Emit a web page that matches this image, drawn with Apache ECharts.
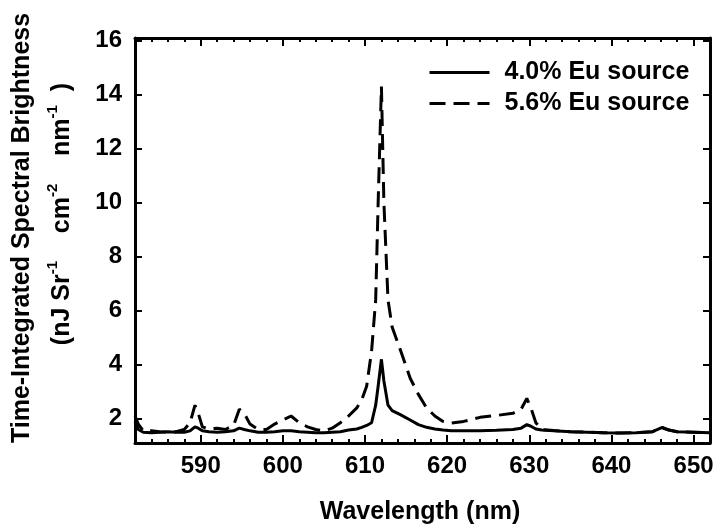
<!DOCTYPE html>
<html>
<head>
<meta charset="utf-8">
<script src="https://cdn.jsdelivr.net/npm/echarts@6/dist/echarts.min.js"></script>
<style>html,body{margin:0;padding:0;background:#fff;}#c{width:719px;height:529px;}</style>
</head>
<body>
<div id="c"></div>
<script>
// Wavelength (nm)
const wavelengths = [582, 582.4, 583, 584, 585, 586, 587, 588, 588.7, 589.3, 589.7, 590.2, 591, 592, 593, 594, 594.7, 595.3, 596, 597, 598, 599, 600, 601, 602, 603, 604, 605, 606, 607, 608, 609, 609.6, 610.2, 610.8, 611.3, 611.6, 612, 612.3, 612.8, 613.3, 614.3, 615.5, 616.5, 617.5, 618.5, 619.5, 620.5, 622, 624, 626, 628, 629, 629.7, 630.2, 630.8, 631.5, 633, 635, 637, 639, 641, 643, 645, 646.2, 647, 648, 650, 652];
// 4.0% Eu source
const eu40 = [1.9, 1.6, 1.5, 1.48, 1.5, 1.52, 1.5, 1.5, 1.55, 1.7, 1.65, 1.55, 1.52, 1.5, 1.52, 1.55, 1.65, 1.6, 1.55, 1.5, 1.5, 1.52, 1.55, 1.55, 1.52, 1.5, 1.48, 1.48, 1.5, 1.52, 1.58, 1.62, 1.68, 1.75, 1.85, 2.5, 3.2, 4.2, 3.4, 2.5, 2.3, 2.15, 1.95, 1.78, 1.68, 1.62, 1.58, 1.55, 1.55, 1.55, 1.57, 1.6, 1.65, 1.78, 1.72, 1.62, 1.58, 1.55, 1.52, 1.5, 1.48, 1.47, 1.48, 1.52, 1.68, 1.58, 1.52, 1.5, 1.48];
// 5.6% Eu source
const eu56 = [2.1, 1.8, 1.55, 1.55, 1.52, 1.5, 1.52, 1.6, 1.85, 2.5, 2.2, 1.7, 1.62, 1.65, 1.6, 1.75, 2.35, 2.2, 1.8, 1.6, 1.6, 1.8, 1.95, 2.1, 1.85, 1.7, 1.6, 1.55, 1.65, 1.85, 2.1, 2.4, 2.7, 3.2, 4.5, 6.4, 10.0, 14.3, 10.0, 6.4, 5.4, 4.55, 3.5, 2.9, 2.4, 2.1, 1.9, 1.84, 1.9, 2.05, 2.12, 2.2, 2.35, 2.75, 2.4, 1.85, 1.6, 1.56, 1.52, 1.5, 1.48, 1.47, 1.48, 1.52, 1.66, 1.58, 1.52, 1.5, 1.48];
const xMajor = [590, 600, 610, 620, 630, 640, 650];
const xMinor = [584, 586, 588, 592, 594, 596, 598, 602, 604, 606, 608, 612, 614, 616, 618, 622, 624, 626, 628, 632, 634, 636, 638, 642, 644, 646, 648, 652];
const yTicks = [2, 4, 6, 8, 10, 12, 14, 16];
const seriesNames = ['4.0% Eu source', '5.6% Eu source'];

const FONT = '"Liberation Sans", Arial, Helvetica, sans-serif';
const XMIN = 582, XMAX = 652, YMIN = 1.1, YMAX = 16.1;

function xAx(pos, ticks, len, labels, line) {
  return {
    type: 'value', position: pos, min: XMIN, max: XMAX,
    axisLine: { show: line, onZero: false, lineStyle: { color: '#000', width: 3 } },
    axisTick: { show: true, inside: true, length: len, customValues: ticks, lineStyle: { color: '#000', width: 2 } },
    axisLabel: labels ? { show: true, customValues: ticks, margin: 11, color: '#000', fontSize: 24, fontWeight: 'bold', fontFamily: FONT } : { show: false },
    splitLine: { show: false }
  };
}
function yAx(pos, labels) {
  return {
    type: 'value', position: pos, min: YMIN, max: YMAX,
    axisLine: { show: true, onZero: false, lineStyle: { color: '#000', width: 3 } },
    axisTick: { show: true, inside: true, length: 7, customValues: yTicks, lineStyle: { color: '#000', width: 2 } },
    axisLabel: labels ? { show: true, customValues: yTicks, margin: 13, color: '#000', fontSize: 24, fontWeight: 'bold', fontFamily: FONT } : { show: false },
    splitLine: { show: false }
  };
}

const chart = echarts.init(document.getElementById('c'), null, { renderer: 'canvas' });
chart.setOption({
  backgroundColor: '#fff',
  animation: false,
  grid: { left: 135, right: 9, top: 38, bottom: 86, containLabel: false },
  xAxis: [
    xAx('bottom', xMajor, 8, true, true),
    xAx('bottom', xMinor, 4, false, false),
    xAx('top', xMajor, 8, false, true),
    xAx('top', xMinor, 4, false, false)
  ],
  yAxis: [yAx('left', true), yAx('right', false)],
  legend: {
    orient: 'vertical', left: 428, top: 60, padding: 0, itemWidth: 60, itemHeight: 24, itemGap: 6,
    itemStyle: { color: 'rgba(0,0,0,0)', opacity: 0, borderWidth: 0 },
    lineStyle: { width: 3 },
    textStyle: { color: '#000', fontSize: 25, fontWeight: 'bold', fontFamily: FONT, padding: [0, 0, 0, 10] },
    data: seriesNames
  },
  graphic: [
    {
      type: 'text', x: 420, y: 512,
      style: { text: 'Wavelength (nm)', align: 'center', verticalAlign: 'middle', fill: '#000', font: 'bold 25px ' + FONT }
    },
    {
      type: 'text', x: 22, y: 228, rotation: Math.PI / 2,
      style: { text: 'Time-Integrated Spectral Brightness', align: 'center', verticalAlign: 'middle', fill: '#000', font: 'bold 25px ' + FONT }
    },
    {
      type: 'text', x: 60, y: 214, rotation: Math.PI / 2,
      style: {
        text: '{n|(nJ Sr}{s|-1}{n|    cm}{s|-2}{n|    nm}{s|-1}{n|  )}',
        align: 'center', verticalAlign: 'middle', fill: '#000',
        rich: {
          n: { fontSize: 25, fontWeight: 'bold', fontFamily: FONT, lineHeight: 30, fill: '#000', verticalAlign: 'bottom' },
          s: { fontSize: 15, fontWeight: 'bold', fontFamily: FONT, lineHeight: 16, fill: '#000', verticalAlign: 'top' }
        }
      }
    }
  ],
  series: [
    {
      name: seriesNames[0], type: 'line', xAxisIndex: 0, yAxisIndex: 0,
      data: wavelengths.map((w, i) => [w, eu40[i]]),
      showSymbol: false, symbol: 'none',
      lineStyle: { color: '#000', width: 3, type: 'solid' },
      itemStyle: { color: '#000' }
    },
    {
      name: seriesNames[1], type: 'line', xAxisIndex: 0, yAxisIndex: 0,
      data: wavelengths.map((w, i) => [w, eu56[i]]),
      showSymbol: false, symbol: 'none',
      lineStyle: { color: '#000', width: 3, type: [16, 8] },
      itemStyle: { color: '#000' }
    }
  ]
});
</script>
</body>
</html>
